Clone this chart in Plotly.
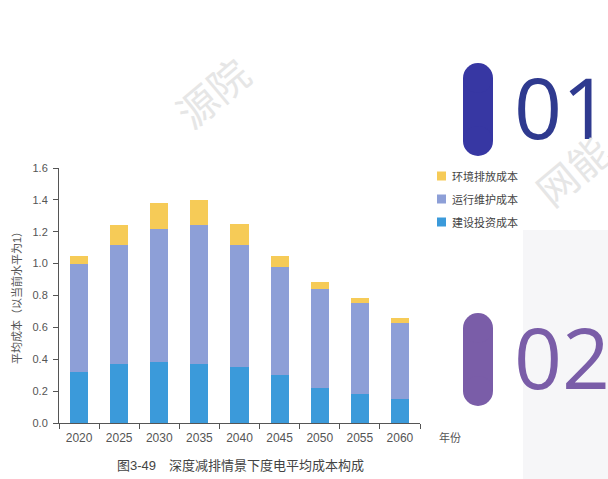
import plotly.graph_objects as go

years = ["2020", "2025", "2030", "2035", "2040", "2045", "2050", "2055", "2060"]
build_cost = [0.32, 0.37, 0.38, 0.37, 0.35, 0.30, 0.22, 0.18, 0.15]
om_cost = [0.675, 0.75, 0.84, 0.87, 0.77, 0.68, 0.62, 0.575, 0.48]
env_cost = [0.055, 0.12, 0.16, 0.16, 0.13, 0.07, 0.045, 0.03, 0.03]
series_names = ["建设投资成本", "运行维护成本", "环境排放成本"]
series_colors = ["#3B9ADA", "#8D9FD7", "#F6CB57"]
y_ticks = [0.0, 0.2, 0.4, 0.6, 0.8, 1.0, 1.2, 1.4, 1.6]

W, H = 608, 479
L, R, T, B = 59, 420, 168, 423


def px(x):
    return (x - L) / (R - L)


def py(y):
    return (B - y) / (B - T)


fig = go.Figure()
for name, vals, col in zip(series_names, [build_cost, om_cost, env_cost], series_colors):
    fig.add_trace(go.Bar(x=years, y=vals, name=name, marker=dict(color=col, line=dict(width=0)),
                         width=0.45, showlegend=False))

font_main = "Liberation Sans, Noto Sans CJK SC, sans-serif"

shapes = [
    # light gray side panel
    dict(type="rect", xref="paper", yref="paper", x0=px(523), x1=px(620), y0=py(230), y1=py(490),
         fillcolor="#F6F6F8", line=dict(width=0), layer="below"),
]
for (top, bot, col) in [(63, 156, "#3737A3"), (313, 406, "#7A5DA8")]:
    shapes.append(dict(type="rect", xref="paper", yref="paper", x0=px(463), x1=px(493),
                       y0=py(top + 15), y1=py(bot - 15), fillcolor=col, line=dict(width=0)))
    shapes.append(dict(type="circle", xref="paper", yref="paper", x0=px(463), x1=px(493),
                       y0=py(top), y1=py(top + 30), fillcolor=col, line=dict(width=0)))
    shapes.append(dict(type="circle", xref="paper", yref="paper", x0=px(463), x1=px(493),
                       y0=py(bot - 30), y1=py(bot), fillcolor=col, line=dict(width=0)))


def ann(text, x, y, size, color, family=font_main, xanchor="center", angle=0):
    return dict(text=text, xref="paper", yref="paper", x=px(x), y=py(y), xanchor=xanchor, yanchor="middle",
                textangle=angle, showarrow=False, font=dict(size=size, color=color, family=family))


annotations = [
    ann("平均成本（以当前水平为1）", 16, 295, 11, "#555555", angle=-90),
    ann("年份", 437, 437, 11, "#555555", xanchor="left"),
    ann("图3-49　深度减排情景下度电平均成本构成", 240, 465, 13, "#444444"),
    ann("01", 512, 106, 84, "#2F3A8F", family="Open Sans", xanchor="left"),
    ann("02", 512, 356, 84, "#7A5DA8", family="Open Sans", xanchor="left"),
    ann("源院", 212, 92, 40, "#E6E6E6", family="Noto Sans CJK SC", angle=-40),
    ann("网能", 572, 170, 40, "#E6E6E6", family="Noto Sans CJK SC", angle=-40),
]

# manual legend (top to bottom: environment, O&M, construction)
legend_y = [222, 199, 176]
for name, col, ly in zip(series_names, series_colors, legend_y):
    shapes.append(dict(type="rect", xref="paper", yref="paper", x0=px(437), x1=px(446),
                       y0=py(ly + 4.5), y1=py(ly - 4.5), fillcolor=col, line=dict(width=0)))
    annotations.append(ann(name, 450, ly, 11, "#444444", xanchor="left"))

fig.update_layout(
    barmode="stack",
    width=W, height=H,
    margin=dict(l=L, r=W - R, t=T, b=H - B, pad=0),
    paper_bgcolor="white", plot_bgcolor="white",
    font=dict(family=font_main, size=11, color="#555555"),
    showlegend=False,
    shapes=shapes,
    annotations=annotations,
    xaxis=dict(showline=True, linecolor="#555555", linewidth=1, ticks="outside", tickson="boundaries",
               ticklen=5, tickcolor="#555555", showgrid=False, ticklabelstandoff=4,
               tickfont=dict(size=12, color="#555555")),
    yaxis=dict(range=[0, 1.6], tickvals=y_ticks, ticktext=[f"{v:.1f}" for v in y_ticks],
               showline=True, linecolor="#555555", linewidth=1, ticks="outside", ticklen=5,
               tickcolor="#555555", showgrid=False, zeroline=False, ticklabelstandoff=3,
               tickfont=dict(size=11, color="#555555")),
)

fig.write_html("out.html")
